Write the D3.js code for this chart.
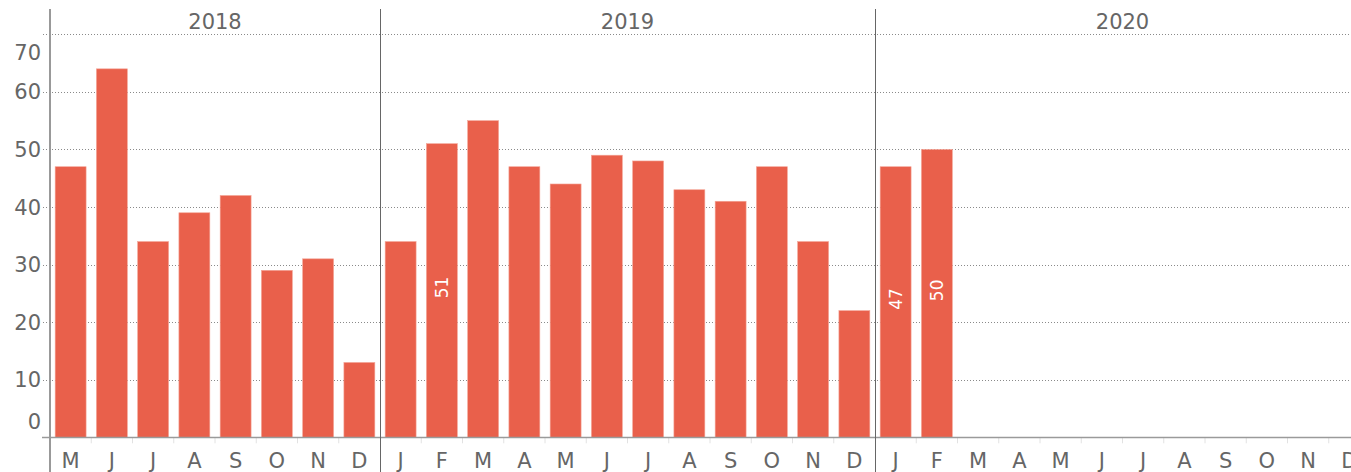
<!DOCTYPE html>
<html><head><meta charset="utf-8">
<script src="https://cdn.jsdelivr.net/npm/d3@7"></script>
<style>html,body{margin:0;padding:0;background:#fff;overflow:hidden}</style>
</head><body><svg id="chart" width="1351" height="472"></svg>
<script>
// ---- data ----
const years = ["2018", "2019", "2020"];
const months2018 = ["M", "J", "J", "A", "S", "O", "N", "D"];
const months2019 = ["J", "F", "M", "A", "M", "J", "J", "A", "S", "O", "N", "D"];
const months2020 = ["J", "F", "M", "A", "M", "J", "J", "A", "S", "O", "N", "D"];
const values2018 = [47, 64, 34, 39, 42, 29, 31, 13];
const values2019 = [34, 51, 55, 47, 44, 49, 48, 43, 41, 47, 34, 22];
const values2020 = [47, 50, null, null, null, null, null, null, null, null, null, null];
const labeled2018 = [false, false, false, false, false, false, false, false];
const labeled2019 = [false, true, false, false, false, false, false, false, false, false, false, false];
const labeled2020 = [true, true, false, false, false, false, false, false, false, false, false, false];
const yTicks = [0, 10, 20, 30, 40, 50, 60, 70];

const panels = [
  {year: years[0], months: months2018, values: values2018, labeled: labeled2018},
  {year: years[1], months: months2019, values: values2019, labeled: labeled2019},
  {year: years[2], months: months2020, values: values2020, labeled: labeled2020}
];

// ---- layout ----
const W = 1351, H = 472;
const leftX = 50, step = 41.25;
const topLineY = 9, baseY = 437.3, topY = 34.3;
const font = "'DejaVu Sans', sans-serif";
const barColor = "#E9604B";
const textColor = "#666";

const svg = d3.select("#chart");
const y = d3.scaleLinear().domain([0, 70]).range([baseY, topY]);

// panel x positions
let x0 = leftX;
panels.forEach(p => {
  p.x0 = x0;
  p.w = p.months.length * step;
  p.x = d3.scaleBand().domain(d3.range(p.months.length))
    .range([x0, x0 + p.w]).paddingInner(0.25).paddingOuter(0.125);
  x0 += p.w;
});

// gridlines
svg.append("g").selectAll("line").data(yTicks.filter(t => t > 0)).join("line")
  .attr("x1", leftX - 7).attr("x2", W)
  .attr("y1", d => Math.round(y(d)) + 0.5).attr("y2", d => Math.round(y(d)) + 0.5)
  .attr("stroke", "#8a8a8a").attr("stroke-width", 1).attr("stroke-dasharray", "1,2");

// y tick labels (Tableau-like clamping at ends)
svg.append("g").selectAll("text").data(yTicks).join("text")
  .attr("x", 41)
  .attr("y", d => {
    let yy = y(d);
    if (d === 70) yy = 52;
    if (d === 0) yy = 421;
    return yy;
  })
  .attr("dy", "0.36em")
  .attr("text-anchor", "end")
  .attr("font-family", font).attr("font-size", 21).attr("fill", textColor)
  .text(d => d);

// bars
panels.forEach(p => {
  const g = svg.append("g");
  const data = p.values.map((v, i) => ({i, v, lab: p.labeled[i]})).filter(d => d.v != null);
  g.selectAll("rect").data(data).join("rect")
    .attr("x", d => p.x(d.i)).attr("width", p.x.bandwidth())
    .attr("y", d => y(d.v)).attr("height", d => y(0) - y(d.v))
    .attr("fill", barColor).attr("stroke", "#f4a597").attr("stroke-width", 0.6);
  g.selectAll("text.lbl").data(data.filter(d => d.lab)).join("text")
    .attr("class", "lbl")
    .attr("transform", d => `translate(${p.x(d.i) + p.x.bandwidth() / 2},${(y(d.v) + y(0)) / 2 - 3}) rotate(-90)`)
    .attr("text-anchor", "middle").attr("dy", "0.36em")
    .attr("font-family", font).attr("font-size", 17).attr("fill", "#fff")
    .text(d => d.v);

  // category ticks
  g.selectAll("line.tk").data(d3.range(1, p.months.length)).join("line")
    .attr("class", "tk")
    .attr("x1", i => p.x0 + i * step).attr("x2", i => p.x0 + i * step)
    .attr("y1", baseY).attr("y2", baseY + 6)
    .attr("stroke", "#e2e2e2").attr("stroke-width", 1);

  // month labels
  g.selectAll("text.m").data(p.months.map((m, i) => ({m, i}))).join("text")
    .attr("class", "m")
    .attr("x", d => p.x(d.i) + p.x.bandwidth() / 2).attr("y", 460)
    .attr("dy", "0.36em").attr("text-anchor", "middle")
    .attr("font-family", font).attr("font-size", 21).attr("fill", textColor)
    .text(d => d.m);

  // year header
  svg.append("text")
    .attr("x", p.x0 + p.w / 2).attr("y", 21.5).attr("dy", "0.36em")
    .attr("text-anchor", "middle")
    .attr("font-family", font).attr("font-size", 21).attr("fill", textColor)
    .text(p.year);
});

// baseline
svg.append("line").attr("x1", leftX - 8).attr("x2", W)
  .attr("y1", Math.round(baseY) + 0.5).attr("y2", Math.round(baseY) + 0.5)
  .attr("stroke", "#9a9a9a").attr("stroke-width", 1.5);

// panel separators
svg.append("g").selectAll("line").data(panels).join("line")
  .attr("x1", (p, i) => p.x0 + (i === 0 ? 0 : 0.5)).attr("x2", (p, i) => p.x0 + (i === 0 ? 0 : 0.5))
  .attr("y1", topLineY).attr("y2", H)
  .attr("stroke", (p, i) => i === 0 ? "#999" : "#666")
  .attr("stroke-width", (p, i) => i === 0 ? 2 : 1);
</script></body></html>
